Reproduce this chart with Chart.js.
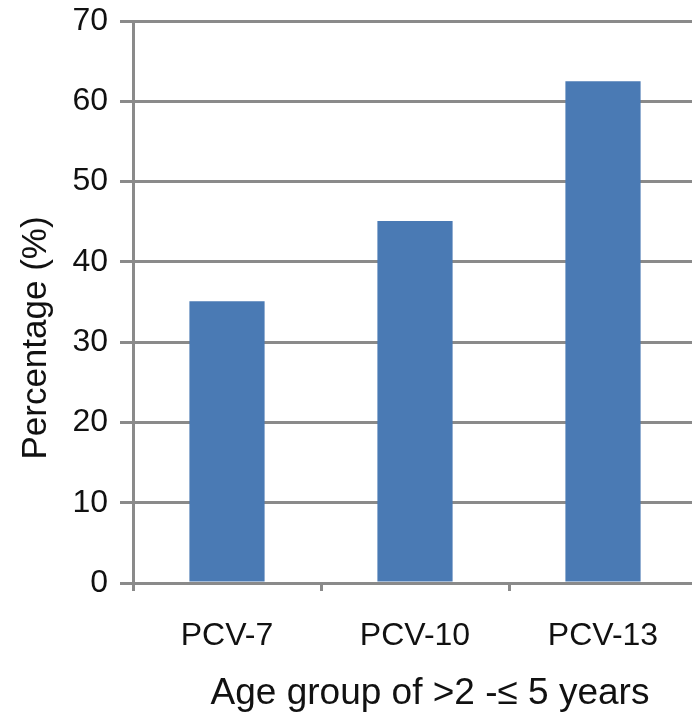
<!DOCTYPE html>
<html>
<head>
    <title>PCV coverage</title>
    <script src="https://cdn.jsdelivr.net/npm/chart.js"></script>
    <style>
        body { margin: 0; overflow: hidden; background: #fff; }
    </style>
</head>
<body>
    <canvas id="barChart" width="697" height="715"></canvas>
    <script>
        // 資料
        const categories = ['PCV-7', 'PCV-10', 'PCV-13'];
        const percentages = [35.1, 45.1, 62.5];
        const yTicks = [0, 10, 20, 30, 40, 50, 60, 70];
        const xTitle = 'Age group of >2 -\u2264 5 years';
        const yTitle = 'Percentage (%)';

        const gridColor = '#8a8a8a';
        const textColor = '#111111';
        const fontFamily = '"Liberation Sans", Arial, sans-serif';

        // 軸標題：放在圖表區旁邊
        const axisTitles = {
            id: 'axisTitles',
            afterDraw(chart) {
                const { ctx, chartArea } = chart;
                ctx.save();
                ctx.fillStyle = textColor;
                ctx.textAlign = 'center';
                ctx.textBaseline = 'middle';
                ctx.font = '37px ' + fontFamily;
                ctx.fillText(xTitle, chartArea.left + 297, chartArea.bottom + 111);
                ctx.translate(chartArea.left - 97, chartArea.top + 317);
                ctx.rotate(-Math.PI / 2);
                ctx.font = '35px ' + fontFamily;
                ctx.fillText(yTitle, 0, 0);
                ctx.restore();
            }
        };

        var ctx = document.getElementById('barChart').getContext('2d');
        var barChart = new Chart(ctx, {
            type: 'bar',
            data: {
                labels: categories,
                datasets: [{
                    data: percentages,
                    backgroundColor: '#4a7ab4',
                    borderWidth: 0,
                    barPercentage: 0.4,
                    categoryPercentage: 1.0
                }]
            },
            plugins: [axisTitles],
            options: {
                responsive: false,
                animation: false,
                layout: { padding: { top: 21, right: 0, bottom: 0, left: 0 } },
                plugins: {
                    legend: { display: false },
                    tooltip: { enabled: false }
                },
                scales: {
                    x: {
                        afterFit: (scale) => { scale.height = 132; },
                        grid: {
                            drawOnChartArea: false,
                            drawTicks: true,
                            tickLength: 8,
                            color: gridColor,
                            lineWidth: 3
                        },
                        border: { color: gridColor, width: 3 },
                        ticks: {
                            color: textColor,
                            padding: 26,
                            font: { family: fontFamily, size: 32 }
                        }
                    },
                    y: {
                        min: 0,
                        max: 70,
                        afterFit: (scale) => { scale.width = 133; },
                        afterBuildTicks: (scale) => {
                            scale.ticks = yTicks.map(v => ({ value: v }));
                        },
                        grid: {
                            color: gridColor,
                            lineWidth: 3,
                            tickLength: 13
                        },
                        border: { color: gridColor, width: 3 },
                        ticks: {
                            color: textColor,
                            padding: 12,
                            font: { family: fontFamily, size: 32, lineHeight: 0.5 }
                        }
                    }
                }
            }
        });
    </script>
</body>
</html>
